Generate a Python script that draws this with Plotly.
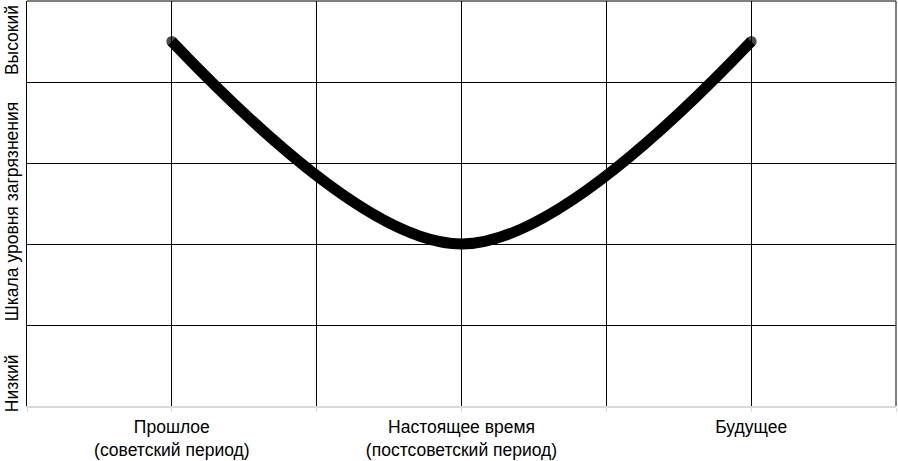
import plotly.graph_objects as go

periods = [1, 3, 5]
pollution = [4.5, 2.0, 4.5]
tick_positions = [0, 1, 2, 3, 4, 5, 6]
tick_labels = ["", "Прошлое<br>(советский период)", "", "Настоящее время<br>(постсоветский период)", "", "Будущее", ""]

font = "Liberation Sans, Arial, sans-serif"

fig = go.Figure()
fig.add_trace(go.Scatter(
    x=periods, y=pollution, mode="lines+markers",
    line=dict(color="black", width=11, shape="spline", smoothing=1.0),
    marker=dict(size=[11, 0, 11], color="black", line=dict(width=0)),
    showlegend=False, hoverinfo="skip",
))

fig.update_layout(
    width=898, height=461,
    margin=dict(l=27, r=2, t=1, b=55, autoexpand=False),
    paper_bgcolor="white", plot_bgcolor="white",
    font=dict(family=font, size=18, color="black"),
    xaxis=dict(range=[0, 6], tickvals=tick_positions, ticktext=tick_labels,
               showgrid=True, gridcolor="black", gridwidth=1,
               showline=True, linecolor="#d9d9d9", linewidth=2,
               ticks="outside", tickcolor="#d9d9d9", ticklen=4,
               zeroline=False, tickfont=dict(size=17.5, family=font), automargin=False),
    yaxis=dict(range=[0, 5], dtick=1, showticklabels=False,
               showgrid=True, gridcolor="black", gridwidth=1,
               showline=True, linecolor="black", linewidth=1, mirror=False,
               zeroline=False, automargin=False),
)

fig.add_shape(type="line", xref="paper", yref="paper", x0=0, x1=1, y0=1, y1=1,
              line=dict(color="black", width=1))
fig.add_shape(type="line", xref="paper", yref="paper", x0=1, x1=1, y0=0, y1=1,
              line=dict(color="black", width=1))

for txt, yp in [("Высокий", 0.904), ("Шкала уровня загрязнения", 0.479), ("Низкий", 0.057)]:
    fig.add_annotation(text=txt, xref="paper", yref="paper", x=-0.017, y=yp,
                       textangle=-90, showarrow=False, xanchor="center", yanchor="middle",
                       font=dict(size=17.5, family=font, color="black"))

fig.write_html("out.html", config={"displayModeBar": False},
               post_script="document.body.style.margin='0';document.body.style.padding='0';")
